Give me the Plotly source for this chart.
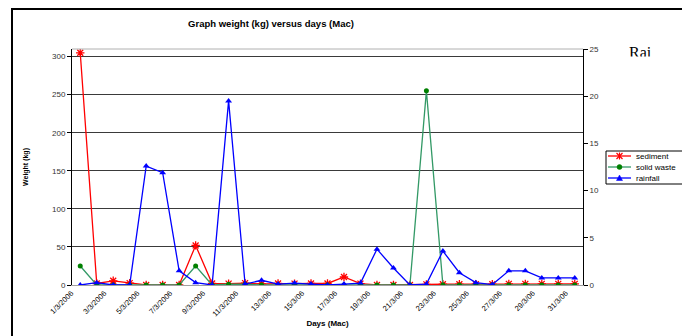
import plotly.graph_objects as go

days = [f"{d}/3/2006" if d <= 11 else f"{d}/3/06" for d in range(1, 32)]
sediment = [305, 2, 5.5, 2.5, 0, 0, 0, 52, 2, 1.8, 2.5, 1.3, 2, 1.8, 2, 2, 10.5, 1.8,
            0, 0, 0, 0.8, 1, 1, 1, 1, 1.5, 1.5, 1.5, 1.5, 1.5]
solid_waste = [25, 0, 0, 0, 0, 0, 0, 25, 0, 1, 1, 0, 0, 0, 0, 0, 0, 0, 0, 0, 0, 255,
               0, 0, 0, 0, 0, 0, 0, 0, 0]
rainfall = [0, 0.25, 0, 0, 12.6, 11.9, 1.5, 0.25, 0, 19.5, 0.1, 0.5, 0.1, 0.2, 0.1, 0,
            0.1, 0.2, 3.8, 1.8, 0, 0.1, 3.6, 1.3, 0.25, 0.05, 1.5, 1.5, 0.75, 0.75, 0.75]
tick_labels = days[::2]
series_names = ["sediment", "solid waste", "rainfall"]
series_colors = ["#ff0000", "#339966", "#0000ff"]

FONT = "Liberation Sans, Arial, sans-serif"
W, H = 682, 336
L, R, T, B = 72, 99, 49, 51
PW, PH = W - L - R, H - T - B


def px(x):
    return (x - L) / PW


def py(y):
    return (H - B - y) / PH


fig = go.Figure()
fig.add_trace(go.Scatter(x=days, y=sediment, name=series_names[0], mode="lines+markers",
                         line=dict(color=series_colors[0], width=1.3),
                         marker=dict(symbol="asterisk-open", size=7,
                                     line=dict(color="#ff0000", width=1.3))))
fig.add_trace(go.Scatter(x=days, y=solid_waste, name=series_names[1], mode="lines+markers",
                         line=dict(color=series_colors[1], width=1.3),
                         marker=dict(symbol="circle", size=5, color="#008000")))
fig.add_trace(go.Scatter(x=days, y=rainfall, name=series_names[2], mode="lines+markers",
                         yaxis="y2",
                         line=dict(color=series_colors[2], width=1.3),
                         marker=dict(symbol="triangle-up", size=6, color="#0000ff")))

fig.update_layout(
    width=W, height=H,
    margin=dict(l=L, r=R, t=T, b=B, autoexpand=False),
    paper_bgcolor="white", plot_bgcolor="white",
    font=dict(family=FONT, size=8, color="#000"),
    showlegend=False,
    title=dict(text="<b>Graph weight (kg) versus days (Mac)</b>", x=271 / W, xanchor="center",
               y=1 - 24 / H, yanchor="middle", font=dict(size=9.5, family=FONT)),
    xaxis=dict(type="category", categoryorder="array", categoryarray=days,
               tickvals=tick_labels, ticktext=tick_labels, tickangle=-45,
               tickfont=dict(size=7.5), showgrid=False, showline=True,
               linecolor="#a0a0a0", linewidth=1, ticks="", ticklabelshift=-9,
               range=[-0.5, 30.5],
               title=dict(text="<b>Days (Mac)</b>", font=dict(size=8), standoff=2)),
    yaxis=dict(range=[0, 310], tickvals=[0, 50, 100, 150, 200, 250, 300],
               showgrid=True, gridcolor="#3a3a3a", gridwidth=1,
               showline=True, linecolor="#000", linewidth=1, ticks="outside", ticklen=4,
               tickcolor="#000", tickfont=dict(size=8, color="#333"), zeroline=False,
               title=dict(text="<b>Weight (kg)</b>", font=dict(size=7), standoff=22)),
    yaxis2=dict(range=[0, 25], tickvals=[0, 5, 10, 15, 20, 25], overlaying="y", side="right",
                showgrid=False, showline=True, linecolor="#000", linewidth=1,
                ticks="outside", ticklen=4, tickcolor="#000", zeroline=False,
                tickfont=dict(size=8, color="#333")),
)

# plot-area top edge and outer chart border
fig.add_shape(type="line", xref="paper", yref="paper", x0=0, x1=1, y0=1, y1=1,
              line=dict(color="#b0b0b0", width=1))
fig.add_shape(type="rect", xref="paper", yref="paper",
              x0=px(12), x1=px(W + 20), y0=py(H + 20), y1=py(9),
              line=dict(color="#000", width=2), layer="below")

# clipped "Rai" text at the top right
fig.add_annotation(text="Rai", xref="paper", yref="paper", x=px(627), y=py(53),
                   xanchor="left", yanchor="middle", showarrow=False,
                   font=dict(family="Liberation Serif, Times New Roman, serif", size=16,
                             color="#000"))
fig.add_annotation(text=" ", xref="paper", yref="paper", x=px(620), y=py(56),
                   xanchor="left", yanchor="top", showarrow=False, bgcolor="white",
                   width=50, height=12, borderpad=0)

# manual legend (compact, like the reference)
fig.add_shape(type="rect", xref="paper", yref="paper", x0=px(606), x1=px(W + 10),
              y0=py(184), y1=py(151), line=dict(color="#000", width=1), fillcolor="white")
rows = [156, 167, 178]
for name, color, yy in zip(series_names, series_colors, rows):
    fig.add_shape(type="line", xref="paper", yref="paper", x0=px(608), x1=px(631),
                  y0=py(yy), y1=py(yy), line=dict(color=color, width=1.3))
    fig.add_annotation(text=name, xref="paper", yref="paper", x=px(634), y=py(yy),
                       xanchor="left", yanchor="middle", showarrow=False,
                       font=dict(size=8, color="#000", family=FONT))
cx = 619.5
# sediment asterisk
fig.add_shape(type="line", xref="paper", yref="paper", x0=px(cx - 3), x1=px(cx + 3),
              y0=py(rows[0] - 3), y1=py(rows[0] + 3), line=dict(color="#ff0000", width=1.2))
fig.add_shape(type="line", xref="paper", yref="paper", x0=px(cx - 3), x1=px(cx + 3),
              y0=py(rows[0] + 3), y1=py(rows[0] - 3), line=dict(color="#ff0000", width=1.2))
fig.add_shape(type="line", xref="paper", yref="paper", x0=px(cx), x1=px(cx),
              y0=py(rows[0] - 3.5), y1=py(rows[0] + 3.5), line=dict(color="#ff0000", width=1.2))
# solid waste circle
fig.add_shape(type="circle", xref="paper", yref="paper", x0=px(cx - 2.5), x1=px(cx + 2.5),
              y0=py(rows[1] + 2.5), y1=py(rows[1] - 2.5), fillcolor="#008000",
              line=dict(color="#008000", width=0.5))
# rainfall triangle
tri = "M {} {} L {} {} L {} {} Z".format(px(cx - 3), py(rows[2] + 2.5), px(cx + 3),
                                        py(rows[2] + 2.5), px(cx), py(rows[2] - 3))
fig.add_shape(type="path", xref="paper", yref="paper", path=tri, fillcolor="#0000ff",
              line=dict(color="#0000ff", width=0.5))

fig.write_html("out.html")
